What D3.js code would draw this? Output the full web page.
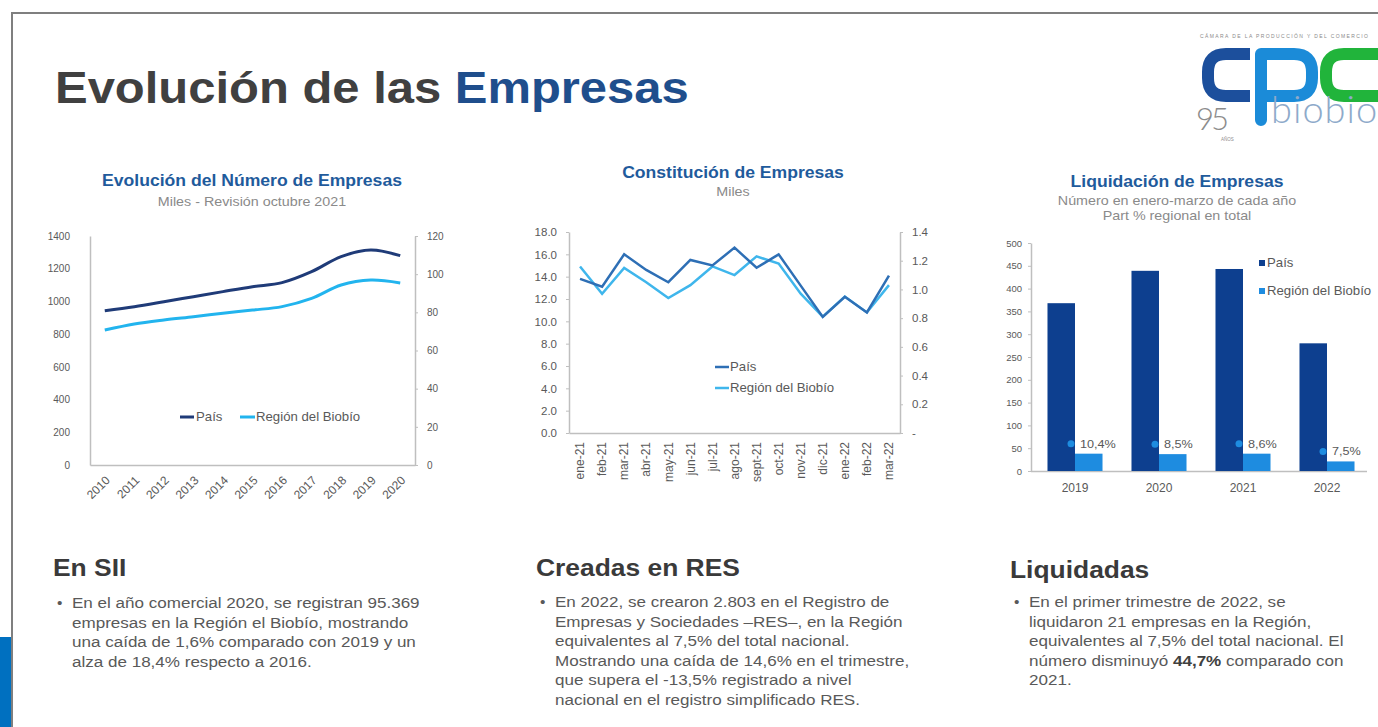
<!DOCTYPE html>
<html>
<head>
<meta charset="utf-8">
<script src="https://cdn.jsdelivr.net/npm/d3@7"></script>
<style>
  html, body { margin: 0; padding: 0; background: #fff; }
  svg { display: block; font-family: "Liberation Sans", Arial, sans-serif; }
</style>
</head>
<body>
<div id="slide"></div>
<script>
// ---- datos gráfico 1: número de empresas (miles)
const years1 = ["2010", "2011", "2012", "2013", "2014", "2015", "2016", "2017", "2018", "2019", "2020"];
const pais1 = [943, 968, 998, 1029, 1060, 1090, 1115, 1182, 1274, 1314, 1280];
const region1 = [70.7, 73.9, 76.0, 77.7, 79.5, 81.2, 83.0, 87.3, 94.3, 96.9, 95.4];
const ticks1Left = [0, 200, 400, 600, 800, 1000, 1200, 1400];
const ticks1Right = [0, 20, 40, 60, 80, 100, 120];

// ---- datos gráfico 2: constitución de empresas (miles)
const months2 = ["ene-21", "feb-21", "mar-21", "abr-21", "may-21", "jun-21", "jul-21", "ago-21",
                 "sept-21", "oct-21", "nov-21", "dic-21", "ene-22", "feb-22", "mar-22"];
const pais2 = [13.8, 13.1, 16.0, 14.6, 13.5, 15.5, 15.0, 16.6, 14.8, 16.0, 13.2, 10.4, 12.2, 10.8, 14.1];
const region2 = [1.16, 0.97, 1.15, 1.05, 0.94, 1.03, 1.16, 1.10, 1.23, 1.18, 0.97, 0.81, 0.95, 0.84, 1.03];
const ticks2Left = [0, 2, 4, 6, 8, 10, 12, 14, 16, 18];
const ticks2Right = [0, 0.2, 0.4, 0.6, 0.8, 1.0, 1.2, 1.4];

// ---- datos gráfico 3: liquidación de empresas
const years3 = ["2019", "2020", "2021", "2022"];
const pais3 = [368, 439, 443, 280];
const region3 = [38, 37, 38, 21];
const part3 = ["10,4%", "8,5%", "8,6%", "7,5%"];
const ticks3 = [0, 50, 100, 150, 200, 250, 300, 350, 400, 450, 500];

// ---- textos
const texto1 = [
  "En el año comercial 2020, se registran 95.369",
  "empresas en la Región el Biobío, mostrando",
  "una caída de 1,6% comparado con 2019 y un",
  "alza de 18,4% respecto a 2016."
];
const texto2 = [
  "En 2022, se crearon 2.803 en el Registro de",
  "Empresas y Sociedades –RES–, en la Región",
  "equivalentes al 7,5% del total nacional.",
  "Mostrando una caída de 14,6% en el trimestre,",
  "que supera el -13,5% registrado a nivel",
  "nacional en el registro simplificado RES."
];
const texto3 = [
  "En el primer trimestre de 2022, se",
  "liquidaron 21 empresas en la Región,",
  "equivalentes al 7,5% del total nacional. El",
  "número disminuyó 44,7% comparado con",
  "2021."
];

const SX = 1.1;   // la diapositiva está algo estirada en horizontal
const GRIS = "#595959";
const EJE = "#bfbfbf";

const svg = d3.select("#slide").append("svg")
  .attr("width", 1378)
  .attr("height", 727);

svg.append("rect").attr("width", 1378).attr("height", 727).attr("fill", "#fff");

function txt(parent, x, y, str, size, fill, weight, anchor) {
  return parent.append("text")
    .attr("transform", `translate(${x},${y}) scale(${SX},1)`)
    .attr("font-size", size)
    .attr("fill", fill)
    .attr("font-weight", weight || "normal")
    .attr("text-anchor", anchor || "start")
    .text(str);
}

function styleAxis(sel, size) {
  sel.select(".domain").attr("stroke", EJE).attr("stroke-width", 1.5);
  sel.selectAll(".tick line").attr("stroke", EJE);
  sel.selectAll(".tick text").attr("fill", GRIS).attr("font-size", size)
    .attr("font-family", '"Liberation Sans", Arial, sans-serif');
}

// marco
svg.append("path")
  .attr("d", "M12,727 L12,13 L1378,13")
  .attr("fill", "none")
  .attr("stroke", "#7f7f7f")
  .attr("stroke-width", 2);
svg.append("rect").attr("x", 0).attr("y", 637).attr("width", 11).attr("height", 90).attr("fill", "#0070c0");

// título
const titulo = svg.append("text")
  .attr("transform", `translate(55,103) scale(${SX},1)`)
  .attr("font-size", 44.5)
  .attr("font-weight", "bold");
titulo.append("tspan").attr("fill", "#404040").text("Evolución de las ");
titulo.append("tspan").attr("fill", "#1f4e8c").text("Empresas");

// logo
const logo = svg.append("g");
logo.append("text").attr("x", 1200).attr("y", 38).attr("font-size", 5).attr("fill", "#8a8a8a")
  .attr("textLength", 168).text("CÁMARA DE LA PRODUCCIÓN Y DEL COMERCIO");
logo.append("path")
  .attr("d", "M1250,54 L1226,54 Q1208,54 1208,72 L1208,78 Q1208,96 1226,96 L1250,96")
  .attr("fill", "none").attr("stroke", "#1c4f9c").attr("stroke-width", 12);
logo.append("path")
  .attr("d", "M1261,120 L1261,54 L1294,54 Q1312,54 1312,72 L1312,78 Q1312,96 1294,96 L1261,96")
  .attr("fill", "none").attr("stroke", "#1b8bd8").attr("stroke-width", 12)
  .attr("stroke-linecap", "round").attr("stroke-linejoin", "round");
logo.append("path")
  .attr("d", "M1384,54 L1344,54 Q1326,54 1326,72 L1326,78 Q1326,96 1344,96 L1384,96")
  .attr("fill", "none").attr("stroke", "#21b43b").attr("stroke-width", 12);
logo.append("text").attr("x", 1271).attr("y", 123).attr("font-size", 38)
  .attr("font-family", "Lato, 'Open Sans', sans-serif").attr("font-weight", 300)
  .attr("fill", "#8eaaca").attr("letter-spacing", 1).text("biobio");
logo.append("text").attr("x", 1196).attr("y", 130).attr("font-size", 31)
  .attr("font-family", "Lato, 'Open Sans', sans-serif").attr("font-weight", 300)
  .attr("fill", "#8c8c8c").attr("letter-spacing", -3).text("95");
logo.append("text").attr("x", 1221).attr("y", 141).attr("font-size", 4.5)
  .attr("fill", "#8c8c8c").text("AÑOS");

// ================= Gráfico 1 =================
const g1 = svg.append("g");
const x1 = d3.scaleBand().domain(years1).range([90, 415]);
const yL1 = d3.scaleLinear().domain([0, 1400]).range([465, 236]);
const yR1 = d3.scaleLinear().domain([0, 120]).range([465, 236]);
const cx1 = (d, i) => x1(years1[i]) + x1.bandwidth() / 2;

txt(g1, 252, 186, "Evolución del Número de Empresas", 16, "#1f5b9c", "bold", "middle");
txt(g1, 252, 206, "Miles - Revisión octubre 2021", 13, "#8a8a8a", "normal", "middle");

g1.append("g").attr("transform", "translate(90,0)")
  .call(d3.axisLeft(yL1).tickValues(ticks1Left).tickSize(0).tickPadding(20).tickSizeOuter(0)
    .tickFormat(d3.format("d")))
  .call(s => styleAxis(s, 10));
g1.append("g").attr("transform", "translate(415,0)")
  .call(d3.axisRight(yR1).tickValues(ticks1Right).tickSize(3).tickPadding(9).tickSizeOuter(0))
  .call(s => styleAxis(s, 10));
g1.append("g").attr("transform", "translate(0,465)")
  .call(d3.axisBottom(x1).tickSize(0).tickSizeOuter(0))
  .call(s => styleAxis(s, 12))
  .call(s => s.selectAll(".tick text")
    .attr("x", 0).attr("y", 0).attr("dy", "0.35em")
    .attr("text-anchor", "end")
    .attr("transform", "translate(3,13) rotate(-45)"));

const lineL1 = d3.line().x(cx1).y(d => yL1(d)).curve(d3.curveCatmullRom);
const lineR1 = d3.line().x(cx1).y(d => yR1(d)).curve(d3.curveCatmullRom);
g1.append("path").datum(pais1).attr("d", lineL1)
  .attr("fill", "none").attr("stroke", "#1f3b78").attr("stroke-width", 3);
g1.append("path").datum(region1).attr("d", lineR1)
  .attr("fill", "none").attr("stroke", "#22b4ee").attr("stroke-width", 3);

// leyenda 1
g1.append("line").attr("x1", 180).attr("x2", 194).attr("y1", 417).attr("y2", 417)
  .attr("stroke", "#1f3b78").attr("stroke-width", 3);
txt(g1, 196, 421, "País", 12, GRIS);
g1.append("line").attr("x1", 240).attr("x2", 255).attr("y1", 417).attr("y2", 417)
  .attr("stroke", "#22b4ee").attr("stroke-width", 3);
txt(g1, 256, 421, "Región del Biobío", 12, GRIS);

// ================= Gráfico 2 =================
const g2 = svg.append("g");
const x2 = d3.scaleBand().domain(months2).range([569, 900]);
const yL2 = d3.scaleLinear().domain([0, 18]).range([433, 232]);
const yR2 = d3.scaleLinear().domain([0, 1.4]).range([433, 232]);
const cx2 = (d, i) => x2(months2[i]) + x2.bandwidth() / 2;

txt(g2, 733, 178, "Constitución de Empresas", 16, "#1f5b9c", "bold", "middle");
txt(g2, 733, 196, "Miles", 13, "#8a8a8a", "normal", "middle");

g2.append("g").attr("transform", "translate(569,0)")
  .call(d3.axisLeft(yL2).tickValues(ticks2Left).tickSize(3).tickPadding(9).tickSizeOuter(0)
    .tickFormat(d3.format(".1f")))
  .call(s => styleAxis(s, 11.5));
g2.append("g").attr("transform", "translate(900,0)")
  .call(d3.axisRight(yR2).tickValues(ticks2Right).tickSize(3).tickPadding(9).tickSizeOuter(0)
    .tickFormat(d => d === 0 ? "-" : d3.format(".1f")(d)))
  .call(s => styleAxis(s, 11.5));
g2.append("g").attr("transform", "translate(0,433)")
  .call(d3.axisBottom(x2).tickSize(0).tickSizeOuter(0))
  .call(s => styleAxis(s, 12))
  .call(s => s.selectAll(".tick text")
    .attr("x", 0).attr("y", 0).attr("dy", "0.35em")
    .attr("text-anchor", "end")
    .attr("transform", "translate(0,9) rotate(-90)"));

const lineL2 = d3.line().x(cx2).y(d => yL2(d));
const lineR2 = d3.line().x(cx2).y(d => yR2(d));
g2.append("path").datum(region2).attr("d", lineR2)
  .attr("fill", "none").attr("stroke", "#3fb6ec").attr("stroke-width", 2.5);
g2.append("path").datum(pais2).attr("d", lineL2)
  .attr("fill", "none").attr("stroke", "#2e6fb5").attr("stroke-width", 2.5);

// leyenda 2
g2.append("line").attr("x1", 715).attr("x2", 729).attr("y1", 367).attr("y2", 367)
  .attr("stroke", "#2e6fb5").attr("stroke-width", 2.5);
txt(g2, 730, 371, "País", 12, GRIS);
g2.append("line").attr("x1", 715).attr("x2", 729).attr("y1", 388).attr("y2", 388)
  .attr("stroke", "#3fb6ec").attr("stroke-width", 2.5);
txt(g2, 730, 392, "Región del Biobío", 12, GRIS);

// ================= Gráfico 3 =================
const g3 = svg.append("g");
const x3 = d3.scaleBand().domain(years3).range([1033, 1369]).paddingInner(0.345).paddingOuter(0.1725);
const s3 = d3.scaleBand().domain(["pais", "region"]).range([0, x3.bandwidth()]);
const y3 = d3.scaleLinear().domain([0, 500]).range([471, 243]);

txt(g3, 1177, 187, "Liquidación de Empresas", 16, "#1f5b9c", "bold", "middle");
txt(g3, 1177, 205, "Número en enero-marzo de cada año", 13, "#8a8a8a", "normal", "middle");
txt(g3, 1177, 220, "Part % regional en total", 13, "#8a8a8a", "normal", "middle");

g3.append("g").attr("transform", "translate(1031,0)")
  .call(d3.axisLeft(y3).tickValues(ticks3).tickSize(3).tickPadding(6).tickSizeOuter(0))
  .call(s => styleAxis(s, 9.5));
g3.append("g").attr("transform", "translate(0,471)")
  .call(d3.axisBottom(x3).tickSize(0).tickPadding(12).tickSizeOuter(0))
  .call(s => styleAxis(s, 12))
  .call(s => s.select(".domain").attr("d", "M1031,0.5H1367"));

g3.selectAll(".bar-pais").data(pais3).enter().append("rect")
  .attr("class", "bar-pais")
  .attr("x", (d, i) => x3(years3[i]) + s3("pais"))
  .attr("y", d => y3(d))
  .attr("width", s3.bandwidth())
  .attr("height", d => y3(0) - y3(d))
  .attr("fill", "#0d3f8f");
g3.selectAll(".bar-region").data(region3).enter().append("rect")
  .attr("class", "bar-region")
  .attr("x", (d, i) => x3(years3[i]) + s3("region"))
  .attr("y", d => y3(d))
  .attr("width", s3.bandwidth())
  .attr("height", d => y3(0) - y3(d))
  .attr("fill", "#1e8ce0");

// participación regional (%)
g3.selectAll(".pt").data(region3).enter().append("circle")
  .attr("class", "pt")
  .attr("cx", (d, i) => x3(years3[i]) + x3.bandwidth() / 2 - 4)
  .attr("cy", d => y3(d) - 10)
  .attr("r", 3.5)
  .attr("fill", "#1e8ce0");
region3.forEach((d, i) => {
  txt(g3, x3(years3[i]) + x3.bandwidth() / 2 + 5, y3(d) - 6, part3[i], 11.5, GRIS);
});

// leyenda 3
g3.append("rect").attr("x", 1259).attr("y", 260).attr("width", 6).attr("height", 6).attr("fill", "#0d3f8f");
txt(g3, 1267, 267, "País", 12, GRIS);
g3.append("rect").attr("x", 1259).attr("y", 288).attr("width", 6).attr("height", 6).attr("fill", "#1e8ce0");
txt(g3, 1267, 295, "Región del Biobío", 12, GRIS);

// ================= Textos inferiores =================
function bloque(x, y, titulo, lineas, yTitulo) {
  txt(svg, x - 4, yTitulo, titulo, 24, "#3a3a3a", "bold");
  txt(svg, x, y, "•", 14, GRIS);
  lineas.forEach((l, i) => {
    const t = txt(svg, x + 15, y + i * 19.5, "", 15.5, GRIS);
    const m = l.match(/^(.*?)(44,7%)(.*)$/);
    if (m) {
      t.append("tspan").text(m[1]);
      t.append("tspan").attr("font-weight", "bold").attr("fill", "#404040").text(m[2]);
      t.append("tspan").text(m[3]);
    } else {
      t.text(l);
    }
  });
}
bloque(57, 608, "En SII", texto1, 576);
bloque(540, 607, "Creadas en RES", texto2, 576);
bloque(1014, 607, "Liquidadas", texto3, 578);
</script>
</body>
</html>
